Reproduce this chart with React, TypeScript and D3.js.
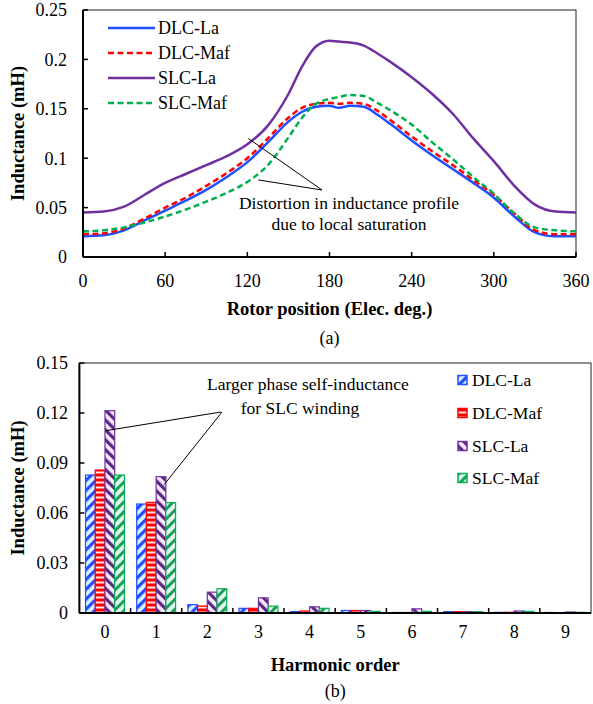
import React from "react";
import * as d3 from "d3";

// ---------- Chart (a) data ----------
const angles = [0, 15, 30, 45, 60, 75, 90, 105, 120, 135, 150, 160, 170, 180, 187, 195, 205, 215, 225, 240, 255, 270, 285, 300, 315, 330, 345, 360];
const dlcLa = [0.021, 0.022, 0.027, 0.037, 0.047, 0.057, 0.068, 0.081, 0.096, 0.116, 0.137, 0.147, 0.152, 0.153, 0.151, 0.153, 0.152, 0.144, 0.134, 0.118, 0.103, 0.089, 0.075, 0.06, 0.041, 0.025, 0.021, 0.021];
const dlcMaf = [0.023, 0.024, 0.029, 0.039, 0.05, 0.06, 0.072, 0.085, 0.1, 0.12, 0.141, 0.151, 0.155, 0.156, 0.155, 0.156, 0.155, 0.148, 0.138, 0.122, 0.107, 0.093, 0.078, 0.063, 0.044, 0.027, 0.023, 0.023];
const slcLa = [0.045, 0.046, 0.051, 0.063, 0.075, 0.084, 0.093, 0.102, 0.114, 0.133, 0.165, 0.193, 0.213, 0.219, 0.218, 0.217, 0.214, 0.206, 0.197, 0.182, 0.165, 0.145, 0.12, 0.097, 0.072, 0.053, 0.046, 0.045];
const slcMaf = [0.026, 0.027, 0.03, 0.035, 0.041, 0.048, 0.056, 0.065, 0.076, 0.093, 0.121, 0.141, 0.155, 0.16, 0.162, 0.164, 0.163, 0.156, 0.148, 0.134, 0.116, 0.099, 0.081, 0.064, 0.044, 0.03, 0.027, 0.026];
const xTicksA = [0, 60, 120, 180, 240, 300, 360];
const yTicksA = [0, 0.05, 0.1, 0.15, 0.2, 0.25];
const yTickLabelsA = ["0", "0.05", "0.1", "0.15", "0.2", "0.25"];
const seriesNames = ["DLC-La", "DLC-Maf", "SLC-La", "SLC-Maf"];

// ---------- Chart (b) data ----------
const harmonics = ["0", "1", "2", "3", "4", "5", "6", "7", "8", "9"];
const hDlcLa = [0.0828, 0.0654, 0.005, 0.0028, 0.0008, 0.0015, 0.0003, 0.0008, 0.0004, 0.0003];
const hDlcMaf = [0.0858, 0.0664, 0.0042, 0.0028, 0.0012, 0.0015, 0.0003, 0.0008, 0.0004, 0.0002];
const hSlcLa = [0.1214, 0.0818, 0.0125, 0.0091, 0.0037, 0.0015, 0.0025, 0.0008, 0.0012, 0.0006];
const hSlcMaf = [0.0828, 0.0662, 0.0146, 0.0041, 0.0028, 0.001, 0.001, 0.0008, 0.001, 0.0004];
const yTicksB = [0, 0.03, 0.06, 0.09, 0.12, 0.15];
const yTickLabelsB = ["0", "0.03", "0.06", "0.09", "0.12", "0.15"];

const BLUE = "#1f4fff";
const RED = "#ff0000";
const PURPLE = "#7030a0";
const GREEN = "#00b050";
const FONT = "Liberation Serif, Tinos, Times New Roman, DejaVu Serif, serif";

export default function App() {
  // chart a scales
  const xA = d3.scaleLinear().domain([0, 360]).range([83, 576]);
  const yA = d3.scaleLinear().domain([0, 0.25]).range([257, 10]);
  const line = (vals: number[]) =>
    d3
      .line<number>()
      .x((_, i) => xA(angles[i]))
      .y((d) => yA(d))
      .curve(d3.curveMonotoneX)(vals) as string;

  const linesA = [
    { name: seriesNames[0], vals: dlcLa, color: BLUE, dash: undefined },
    { name: seriesNames[1], vals: dlcMaf, color: RED, dash: "6,3.5" },
    { name: seriesNames[2], vals: slcLa, color: PURPLE, dash: undefined },
    { name: seriesNames[3], vals: slcMaf, color: GREEN, dash: "6,3.5" },
  ];

  // chart b scales
  const xB = d3.scaleBand<string>().domain(harmonics).range([79.4, 591]);
  const yB = d3.scaleLinear().domain([0, 0.15]).range([613, 363]);
  const barW = xB.bandwidth() * 0.19;
  const barSeries = [
    { name: seriesNames[0], vals: hDlcLa, stroke: BLUE, fill: "url(#pDlcLa)" },
    { name: seriesNames[1], vals: hDlcMaf, stroke: RED, fill: "url(#pDlcMaf)" },
    { name: seriesNames[2], vals: hSlcLa, stroke: PURPLE, fill: "url(#pSlcLa)" },
    { name: seriesNames[3], vals: hSlcMaf, stroke: GREEN, fill: "url(#pSlcMaf)" },
  ];
  const legendBY = [380, 413, 446, 478];
  const txt = { fontFamily: FONT };

  return (
    <svg
      width={593}
      height={704}
      style={{ position: "absolute", left: 0, top: 0, background: "#fff", fontFamily: FONT }}
    >
      <defs>
        <pattern id="pDlcLa" patternUnits="userSpaceOnUse" width="7" height="7" patternTransform="rotate(45)">
          <rect width="7" height="7" fill="#dcf2ff" />
          <rect width="3.2" height="7" fill={BLUE} />
        </pattern>
        <pattern id="pDlcMaf" patternUnits="userSpaceOnUse" width="6" height="5">
          <rect width="6" height="5" fill={RED} />
          <rect y="1.5" width="6" height="2" fill="#ffe6e6" />
        </pattern>
        <pattern id="pSlcLa" patternUnits="userSpaceOnUse" width="7" height="7" patternTransform="rotate(-45)">
          <rect width="7" height="7" fill="#fbeaff" />
          <rect width="3.2" height="7" fill="#5a2a80" />
        </pattern>
        <pattern id="pSlcMaf" patternUnits="userSpaceOnUse" width="7" height="7" patternTransform="rotate(45)">
          <rect width="7" height="7" fill="#e2f8ec" />
          <rect width="3" height="7" fill="#1e9e5e" />
        </pattern>
      </defs>

      {/* ================= Chart (a) ================= */}
      <rect x={xA(0)} y={yA(0.25)} width={xA(360) - xA(0)} height={yA(0) - yA(0.25)} fill="none" stroke="#222" strokeWidth={1} />
      {linesA.map((s) => (
        <path key={s.name} d={line(s.vals)} fill="none" stroke={s.color} strokeWidth={2.5} strokeDasharray={s.dash} />
      ))}
      {/* axes */}
      <line x1={xA(0)} x2={xA(0)} y1={yA(0.25)} y2={yA(0)} stroke="#000" strokeWidth={2} />
      <line x1={xA(0)} x2={xA(360)} y1={yA(0)} y2={yA(0)} stroke="#000" strokeWidth={2} />
      {yTicksA.map((t, i) => (
        <g key={t}>
          <line x1={xA(0)} x2={xA(0) + 5} y1={yA(t)} y2={yA(t)} stroke="#000" strokeWidth={1.5} />
          <text style={txt} x={67} y={yA(t)} dy="0.35em" textAnchor="end" fontSize={18}>
            {yTickLabelsA[i]}
          </text>
        </g>
      ))}
      {xTicksA.map((t) => (
        <g key={t}>
          <line x1={xA(t)} x2={xA(t)} y1={yA(0)} y2={yA(0) - 5} stroke="#000" strokeWidth={1.5} />
          <text style={txt} x={xA(t)} y={281} dy="0.35em" textAnchor="middle" fontSize={18}>
            {t}
          </text>
        </g>
      ))}
      <text style={txt} x={(xA(0) + xA(360)) / 2} y={309} dy="0.35em" textAnchor="middle" fontSize={18.5} fontWeight="bold">
        Rotor position (Elec. deg.)
      </text>
      <text style={txt} x={(xA(0) + xA(360)) / 2} y={338} dy="0.35em" textAnchor="middle" fontSize={18}>
        (a)
      </text>
      <text style={txt} transform={`translate(18,${(yA(0) + yA(0.25)) / 2}) rotate(-90)`} dy="0.35em" textAnchor="middle" fontSize={18.5} fontWeight="bold">
        Inductance (mH)
      </text>
      {/* legend a */}
      {linesA.map((s, i) => (
        <g key={s.name}>
          <line x1={108} x2={155} y1={28 + i * 25} y2={28 + i * 25} stroke={s.color} strokeWidth={2.5} strokeDasharray={s.dash} />
          <text style={txt} x={158} y={28 + i * 25} dy="0.35em" fontSize={18}>
            {s.name}
          </text>
        </g>
      ))}
      {/* annotation a */}
      <line x1={322} y1={190} x2={xA(120) + 1} y2={yA(0.12)} stroke="#000" strokeWidth={1} />
      <line x1={322} y1={190} x2={xA(128)} y2={yA(0.078)} stroke="#000" strokeWidth={1} />
      <text style={txt} x={349} y={203} dy="0.35em" textAnchor="middle" fontSize={17.5}>
        Distortion in inductance profile
      </text>
      <text style={txt} x={349} y={224} dy="0.35em" textAnchor="middle" fontSize={17.5}>
        due to local saturation
      </text>

      {/* ================= Chart (b) ================= */}
      <rect x={79.4} y={yB(0.15)} width={591 - 79.4} height={yB(0) - yB(0.15)} fill="none" stroke="#222" strokeWidth={1} />
      {harmonics.map((h, hi) => {
        const x0 = (xB(h) as number) + xB.bandwidth() / 2 - 2 * barW;
        return barSeries.map((s, si) => {
          const v = s.vals[hi];
          return (
            <rect
              key={h + s.name}
              x={x0 + si * barW}
              y={yB(v)}
              width={barW}
              height={yB(0) - yB(v)}
              fill={s.fill}
              stroke={s.stroke}
              strokeWidth={1.2}
            />
          );
        });
      })}
      <line x1={79.4} x2={79.4} y1={yB(0.15)} y2={yB(0)} stroke="#000" strokeWidth={2} />
      <line x1={79.4} x2={591} y1={yB(0)} y2={yB(0)} stroke="#000" strokeWidth={2} />
      {yTicksB.map((t, i) => (
        <g key={t}>
          <line x1={79.4} x2={84.4} y1={yB(t)} y2={yB(t)} stroke="#000" strokeWidth={1.5} />
          <text style={txt} x={68} y={yB(t)} dy="0.35em" textAnchor="end" fontSize={18}>
            {yTickLabelsB[i]}
          </text>
        </g>
      ))}
      {harmonics.slice(1).map((h) => (
        <line key={h} x1={xB(h) as number} x2={xB(h) as number} y1={yB(0)} y2={yB(0) - 5} stroke="#000" strokeWidth={1.5} />
      ))}
      {harmonics.map((h) => (
        <text style={txt} key={h} x={(xB(h) as number) + xB.bandwidth() / 2} y={632} dy="0.35em" textAnchor="middle" fontSize={18}>
          {h}
        </text>
      ))}
      <text style={txt} x={(79.4 + 591) / 2} y={665} dy="0.35em" textAnchor="middle" fontSize={18.5} fontWeight="bold">
        Harmonic order
      </text>
      <text style={txt} x={(79.4 + 591) / 2} y={691} dy="0.35em" textAnchor="middle" fontSize={18}>
        (b)
      </text>
      <text style={txt} transform={`translate(18,${(yB(0) + yB(0.15)) / 2}) rotate(-90)`} dy="0.35em" textAnchor="middle" fontSize={18.5} fontWeight="bold">
        Inductance (mH)
      </text>
      {/* legend b */}
      {barSeries.map((s, i) => (
        <g key={s.name}>
          <rect x={458} y={legendBY[i] - 4.5} width={9} height={9} fill={s.fill} stroke={s.stroke} strokeWidth={1.5} />
          <text style={txt} x={472} y={legendBY[i]} dy="0.35em" fontSize={17.5}>
            {s.name}
          </text>
        </g>
      ))}
      {/* annotation b */}
      <line x1={221} y1={412} x2={(xB("0") as number) + xB.bandwidth() / 2 + 1} y2={yB(hSlcLa[0]) + 20} stroke="#000" strokeWidth={1} />
      <line x1={222} y1={412} x2={(xB("1") as number) + xB.bandwidth() / 2 + 8} y2={yB(hSlcLa[1]) + 8} stroke="#000" strokeWidth={1} />
      <text style={txt} x={308} y={384} dy="0.35em" textAnchor="middle" fontSize={17.5}>
        Larger phase self-inductance
      </text>
      <text style={txt} x={300} y={408} dy="0.35em" textAnchor="middle" fontSize={17.5}>
        for SLC winding
      </text>
    </svg>
  );
}
